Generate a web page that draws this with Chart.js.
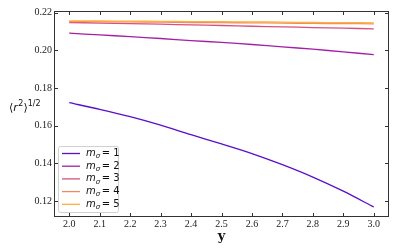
<!DOCTYPE html>
<html>
<head>
<meta charset="utf-8">
<script src="https://cdn.jsdelivr.net/npm/chart.js@4"></script>
<style>
  html, body { margin: 0; padding: 0; background: #fff; }
  #wrap { width: 399px; height: 249px; }
</style>
</head>
<body>
<div id="wrap"><canvas id="chart"></canvas></div>
<script>
// datos
const yValues = [2.0, 2.1, 2.2, 2.3, 2.4, 2.5, 2.6, 2.7, 2.8, 2.9, 3.0];
const m1 = [0.1722, 0.1687, 0.1648, 0.1603, 0.1552, 0.1503, 0.1452, 0.1393, 0.1327, 0.1252, 0.1168];
const m2 = [0.2091, 0.2082, 0.2073, 0.2063, 0.2052, 0.2042, 0.2031, 0.2019, 0.2006, 0.1992, 0.1977];
const m3 = [0.2148, 0.2145, 0.2142, 0.2139, 0.2135, 0.2132, 0.2128, 0.2125, 0.2121, 0.2118, 0.2114];
const m4 = [0.2153, 0.2152, 0.2151, 0.2150, 0.2148, 0.2147, 0.2146, 0.2145, 0.2143, 0.2142, 0.2141];
const m5 = [0.2157, 0.2156, 0.2155, 0.2154, 0.2153, 0.2152, 0.2151, 0.2150, 0.2148, 0.2147, 0.2146];
const seriesLabels = ['1', '2', '3', '4', '5'];
const xTicks = [2.0, 2.1, 2.2, 2.3, 2.4, 2.5, 2.6, 2.7, 2.8, 2.9, 3.0];
const yTicks = [0.12, 0.14, 0.16, 0.18, 0.20, 0.22];

const colors = ['#5a0fc8', '#a41fa8', '#d8507e', '#f08a64', '#fdb03a'];
const allSeries = [m1, m2, m3, m4, m5];

const datasets = allSeries.map((s, i) => ({
    label: seriesLabels[i],
    data: s.map((v, k) => ({ x: yValues[k], y: v })),
    borderColor: colors[i],
    borderWidth: 1.3,
    pointRadius: 0,
    fill: false,
    tension: 0.3,
    order: 4 - i
}));

// marco, ticks hacia dentro, leyenda y etiqueta del eje y
const framePlugin = {
    id: 'frame',
    afterDraw(chart) {
        const { ctx, chartArea: a, scales } = chart;
        const xs = scales.x, ys = scales.y;
        ctx.save();
        ctx.strokeStyle = '#333';
        ctx.lineWidth = 1;
        ctx.strokeRect(a.left + 0.5, a.top + 0.5, a.right - a.left - 1, a.bottom - a.top - 1);
        const tl = 4;
        ctx.beginPath();
        xTicks.forEach(t => {
            const px = Math.round(xs.getPixelForValue(t)) + 0.5;
            ctx.moveTo(px, a.bottom); ctx.lineTo(px, a.bottom - tl);
            ctx.moveTo(px, a.top); ctx.lineTo(px, a.top + tl);
        });
        yTicks.forEach(t => {
            const py = Math.round(ys.getPixelForValue(t)) + 0.5;
            ctx.moveTo(a.left, py); ctx.lineTo(a.left + tl, py);
            ctx.moveTo(a.right, py); ctx.lineTo(a.right - tl, py);
        });
        ctx.stroke();

        // leyenda
        const lx = 58, ly = 146, lw = 60, lh = 66;
        ctx.fillStyle = 'rgba(255,255,255,0.85)';
        ctx.strokeStyle = '#d0d0d0';
        ctx.beginPath();
        ctx.roundRect(lx + 0.5, ly + 0.5, lw, lh, 2);
        ctx.fill();
        ctx.stroke();
        ctx.textBaseline = 'middle';
        seriesLabels.forEach((lab, i) => {
            const yy = 153.5 + i * 12.7;
            ctx.strokeStyle = colors[i];
            ctx.lineWidth = 1.3;
            ctx.beginPath();
            ctx.moveTo(62, yy); ctx.lineTo(80, yy);
            ctx.stroke();
            ctx.fillStyle = '#111';
            let x = 86;
            ctx.font = 'italic 10px "DejaVu Sans"';
            ctx.fillText('m', x, yy);
            x += ctx.measureText('m').width;
            ctx.font = 'italic 7px "DejaVu Sans"';
            ctx.fillText('σ', x, yy + 3);
            x += ctx.measureText('σ').width + 1.5;
            ctx.font = '10px "DejaVu Sans"';
            ctx.fillText('= ' + lab, x, yy);
        });

        // etiqueta eje y
        let x = 9;
        const yy = 108;
        ctx.fillStyle = '#111';
        ctx.font = '11px "DejaVu Sans"';
        ctx.fillText('⟨', x, yy);
        x += ctx.measureText('⟨').width;
        ctx.font = 'italic 11px "DejaVu Sans"';
        ctx.fillText('r', x, yy);
        x += ctx.measureText('r').width + 0.5;
        ctx.font = '8px "DejaVu Sans"';
        ctx.fillText('2', x, yy - 4);
        x += ctx.measureText('2').width;
        ctx.font = '11px "DejaVu Sans"';
        ctx.fillText('⟩', x, yy);
        x += ctx.measureText('⟩').width;
        ctx.font = '8px "DejaVu Sans"';
        ctx.fillText('1/2', x, yy - 4);
        ctx.restore();
    }
};

new Chart(document.getElementById('chart'), {
    type: 'line',
    data: { datasets },
    plugins: [framePlugin],
    options: {
        responsive: true,
        maintainAspectRatio: false,
        animation: false,
        layout: { padding: { top: 11, right: 10, left: 0, bottom: 0 } },
        plugins: { legend: { display: false }, tooltip: { enabled: false } },
        scales: {
            x: {
                type: 'linear',
                min: 1.95,
                max: 3.05,
                afterBuildTicks: s => { s.ticks = xTicks.map(v => ({ value: v })); },
                afterFit: s => { s.height = 32; },
                grid: { display: false, drawTicks: false },
                border: { display: false },
                ticks: {
                    padding: 1,
                    color: '#222',
                    font: { family: '"Liberation Serif"', size: 10 },
                    callback: v => v.toFixed(1)
                },
                title: {
                    display: true,
                    text: 'y',
                    color: '#111',
                    padding: { top: 0, bottom: 5 },
                    font: { family: '"DejaVu Serif"', size: 13, weight: 'bold' }
                }
            },
            y: {
                type: 'linear',
                min: 0.1115,
                max: 0.2209,
                afterBuildTicks: s => { s.ticks = yTicks.map(v => ({ value: v })); },
                afterFit: s => { s.width = 54; },
                grid: { display: false, drawTicks: false },
                border: { display: false },
                ticks: {
                    padding: 2,
                    color: '#222',
                    font: { family: '"Liberation Serif"', size: 10 },
                    callback: v => v.toFixed(2)
                }
            }
        }
    }
});
</script>
</body>
</html>
